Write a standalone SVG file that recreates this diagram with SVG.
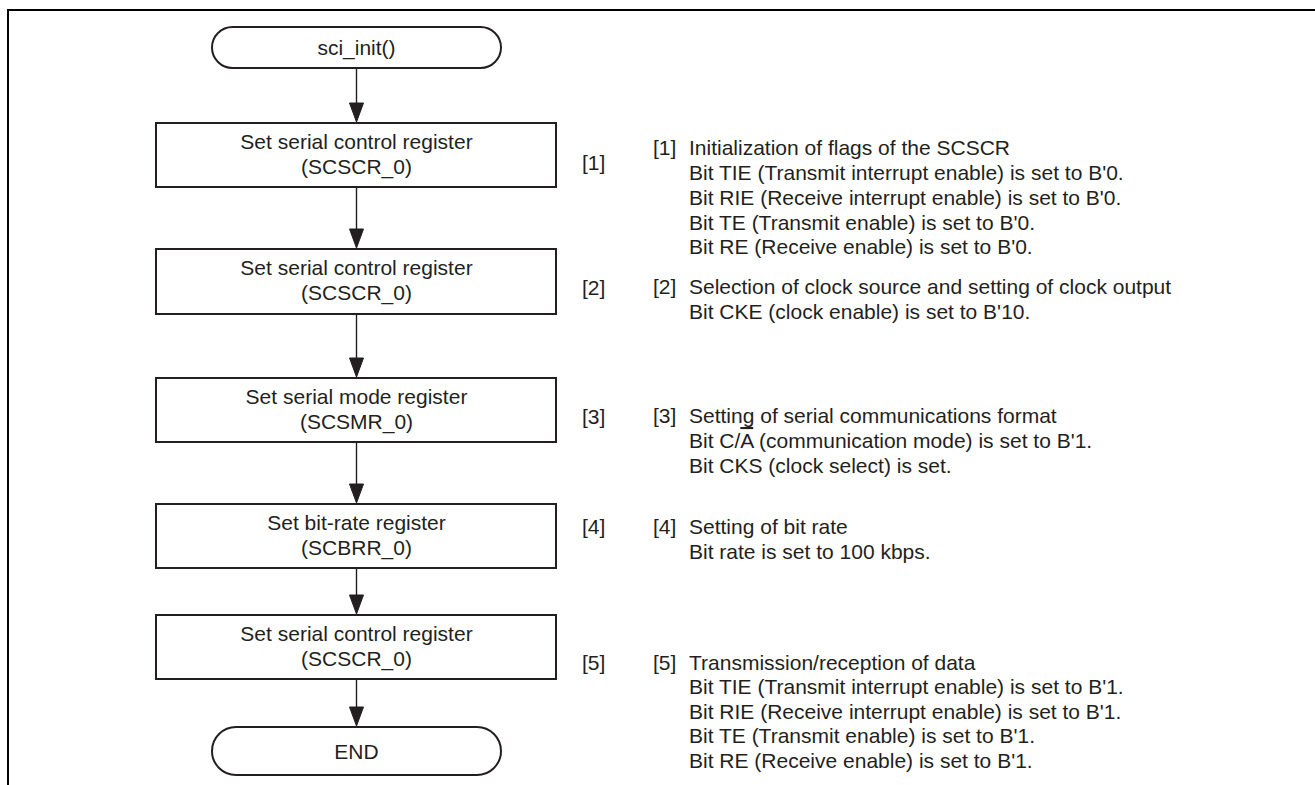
<svg xmlns="http://www.w3.org/2000/svg" width="1315" height="785" viewBox="0 0 1315 785">
<style>
.t{font-family:"Liberation Sans",Arial,sans-serif;font-size:21px;fill:#231f20}
.c{text-anchor:middle}
.box{fill:#fff;stroke:#231f20;stroke-width:2}
.ln{stroke:#231f20;stroke-width:1.4;fill:none}
.hd{fill:#231f20;stroke:#231f20;stroke-width:1;stroke-linejoin:miter}
</style>
<rect width="1315" height="785" fill="#fff"/>
<g id="frame"><path d="M8,785 V10 H1315" fill="none" stroke="#000" stroke-width="2"/></g>

<g id="start">
<rect class="box" x="212" y="27" width="289" height="41" rx="20.5" ry="20.5"/>
<text class="t c" x="356.5" y="55">sci_init()</text>
</g>
<g id="step1">
<rect class="box" x="156" y="123" width="400" height="64"/>
<text class="t c" x="356.5" y="149">Set serial control register</text>
<text class="t c" x="356.5" y="174">(SCSCR_0)</text>
</g>
<g id="step2">
<rect class="box" x="156" y="249" width="400" height="65"/>
<text class="t c" x="356.5" y="275">Set serial control register</text>
<text class="t c" x="356.5" y="300">(SCSCR_0)</text>
</g>
<g id="step3">
<rect class="box" x="156" y="378" width="400" height="64"/>
<text class="t c" x="356.5" y="404">Set serial mode register</text>
<text class="t c" x="356.5" y="429">(SCSMR_0)</text>
</g>
<g id="step4">
<rect class="box" x="156" y="504" width="400" height="64"/>
<text class="t c" x="356.5" y="530">Set bit-rate register</text>
<text class="t c" x="356.5" y="555">(SCBRR_0)</text>
</g>
<g id="step5">
<rect class="box" x="156" y="615" width="400" height="64"/>
<text class="t c" x="356.5" y="641">Set serial control register</text>
<text class="t c" x="356.5" y="666">(SCSCR_0)</text>
</g>
<g id="end">
<rect class="box" x="212" y="727" width="289" height="48" rx="24" ry="24"/>
<text class="t c" x="356.5" y="758.5">END</text>
</g>

<g id="connectors">
<line class="ln" x1="356.5" y1="69" x2="356.5" y2="106"/>
<line class="ln" x1="356.5" y1="188" x2="356.5" y2="232"/>
<line class="ln" x1="356.5" y1="315" x2="356.5" y2="361"/>
<line class="ln" x1="356.5" y1="443" x2="356.5" y2="487"/>
<line class="ln" x1="356.5" y1="569" x2="356.5" y2="598"/>
<line class="ln" x1="356.5" y1="680" x2="356.5" y2="710"/>
<polygon class="hd" points="349.5,103 363.5,103 356.5,122"/>
<polygon class="hd" points="349.5,229 363.5,229 356.5,248"/>
<polygon class="hd" points="349.5,358 363.5,358 356.5,377"/>
<polygon class="hd" points="349.5,484 363.5,484 356.5,503"/>
<polygon class="hd" points="349.5,595 363.5,595 356.5,614"/>
<polygon class="hd" points="349.5,707 363.5,707 356.5,726"/>
</g>

<g id="labels">
<text class="t" x="582" y="169.5">[1]</text>
<text class="t" x="582" y="295">[2]</text>
<text class="t" x="582" y="424">[3]</text>
<text class="t" x="582" y="534">[4]</text>
<text class="t" x="582" y="670">[5]</text>
</g>

<g id="note1">
<text class="t" y="155"><tspan x="653">[1]</tspan><tspan x="689">Initialization of flags of the SCSCR</tspan></text>
<text class="t" x="689" y="180">Bit TIE (Transmit interrupt enable) is set to B'0.</text>
<text class="t" x="689" y="205">Bit RIE (Receive interrupt enable) is set to B'0.</text>
<text class="t" x="689" y="229.5">Bit TE (Transmit enable) is set to B'0.</text>
<text class="t" x="689" y="254">Bit RE (Receive enable) is set to B'0.</text>
</g>
<g id="note2">
<text class="t" y="294"><tspan x="653">[2]</tspan><tspan x="689">Selection of clock source and setting of clock output</tspan></text>
<text class="t" x="689" y="319">Bit CKE (clock enable) is set to B'10.</text>
</g>
<g id="note3">
<text class="t" y="423"><tspan x="653">[3]</tspan><tspan x="689">Setting of serial communications format</tspan></text>
<text class="t" x="689" y="448">Bit C/<tspan style="text-decoration:overline">A</tspan> (communication mode) is set to B'1.</text>
<text class="t" x="689" y="473">Bit CKS (clock select) is set.</text>
</g>
<g id="note4">
<text class="t" y="534"><tspan x="653">[4]</tspan><tspan x="689">Setting of bit rate</tspan></text>
<text class="t" x="689" y="559">Bit rate is set to 100 kbps.</text>
</g>
<g id="note5">
<text class="t" y="670"><tspan x="653">[5]</tspan><tspan x="689">Transmission/reception of data</tspan></text>
<text class="t" x="689" y="694">Bit TIE (Transmit interrupt enable) is set to B'1.</text>
<text class="t" x="689" y="719">Bit RIE (Receive interrupt enable) is set to B'1.</text>
<text class="t" x="689" y="743">Bit TE (Transmit enable) is set to B'1.</text>
<text class="t" x="689" y="768">Bit RE (Receive enable) is set to B'1.</text>
</g>
</svg>
